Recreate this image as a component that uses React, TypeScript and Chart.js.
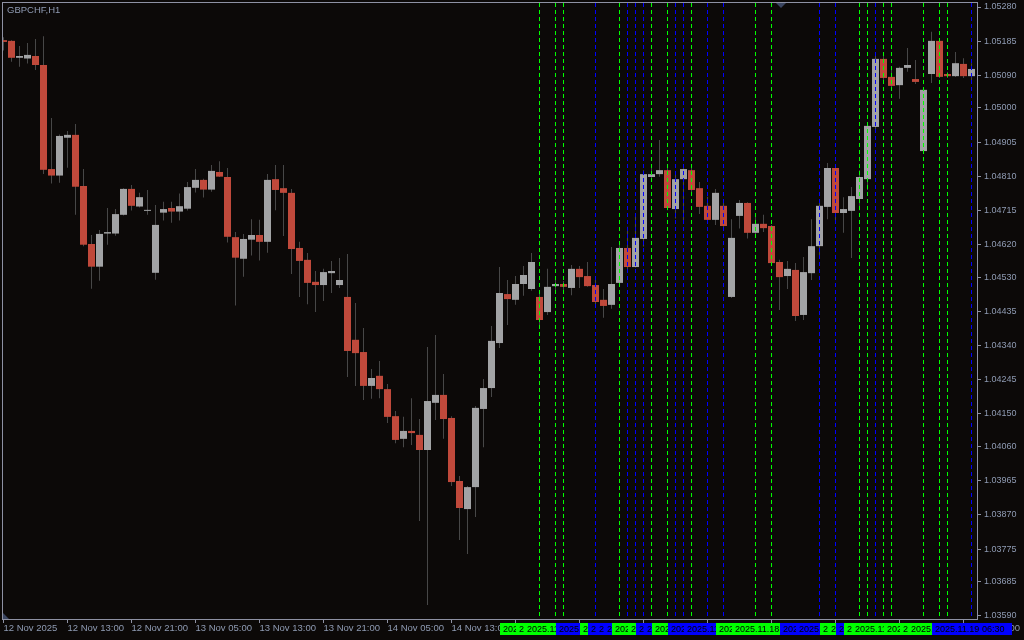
import React, { useEffect, useRef } from 'react';
import { Chart, registerables } from 'chart.js';

Chart.register(...registerables);

// ---- data (H1 candles, GBPCHF) ----
const opens = [
  1.05188, 1.05186, 1.05139, 1.05137, 1.05144, 1.05119, 1.04830, 1.04812, 1.04917, 1.04925,
  1.04783, 1.04622, 1.04559, 1.04651, 1.04651, 1.04703, 1.04775, 1.04726, 1.04714, 1.04542,
  1.04709, 1.04722, 1.04712, 1.04720, 1.04778, 1.04800, 1.04773, 1.04822, 1.04808, 1.04641,
  1.04581, 1.04634, 1.04647, 1.04628, 1.04802, 1.04777, 1.04764, 1.04611, 1.04578, 1.04517,
  1.04508, 1.04541, 1.04508, 1.04475, 1.04356, 1.04322, 1.04228, 1.04256, 1.04219, 1.04144,
  1.04081, 1.04103, 1.04092, 1.04050, 1.04181, 1.04203, 1.04139, 1.03964, 1.03886, 1.03947,
  1.04164, 1.04222, 1.04347, 1.04483, 1.04467, 1.04511, 1.04497, 1.04475, 1.04433, 1.04505,
  1.04511, 1.04500, 1.04553, 1.04533, 1.04508, 1.04467, 1.04453, 1.04514, 1.04611, 1.04558,
  1.04636, 1.04808, 1.04816, 1.04827, 1.04719, 1.04802, 1.04827, 1.04777, 1.04728, 1.04689,
  1.04728, 1.04475, 1.04700, 1.04736, 1.04653, 1.04678, 1.04672, 1.04572, 1.04533, 1.04550,
  1.04425, 1.04541, 1.04616, 1.04725, 1.04833, 1.04708, 1.04714, 1.04747, 1.04802, 1.04947,
  1.05136, 1.05086, 1.05063, 1.05111, 1.05080, 1.04880, 1.05094, 1.05186, 1.05094, 1.05088,
  1.05122, 1.05088,
];
const highs = [
  1.05196, 1.05188, 1.05172, 1.05180, 1.05191, 1.05199, 1.04972, 1.04926, 1.04936, 1.04955,
  1.04830, 1.04647, 1.04661, 1.04722, 1.04719, 1.04777, 1.04786, 1.04764, 1.04772, 1.04730,
  1.04739, 1.04739, 1.04762, 1.04794, 1.04830, 1.04803, 1.04841, 1.04852, 1.04833, 1.04655,
  1.04650, 1.04691, 1.04689, 1.04816, 1.04841, 1.04841, 1.04775, 1.04628, 1.04597, 1.04547,
  1.04553, 1.04575, 1.04583, 1.04594, 1.04458, 1.04389, 1.04275, 1.04297, 1.04233, 1.04158,
  1.04142, 1.04194, 1.04136, 1.04336, 1.04369, 1.04261, 1.04144, 1.03978, 1.03950, 1.04172,
  1.04247, 1.04394, 1.04558, 1.04522, 1.04533, 1.04561, 1.04597, 1.04494, 1.04553, 1.04522,
  1.04519, 1.04564, 1.04561, 1.04572, 1.04522, 1.04497, 1.04614, 1.04622, 1.04670, 1.04703,
  1.04827, 1.04840, 1.04911, 1.04836, 1.04814, 1.04832, 1.04833, 1.04794, 1.04753, 1.04775,
  1.04744, 1.04691, 1.04744, 1.04738, 1.04697, 1.04703, 1.04675, 1.04578, 1.04575, 1.04569,
  1.04586, 1.04691, 1.04736, 1.04847, 1.04839, 1.04752, 1.04780, 1.04827, 1.04958, 1.05147,
  1.05147, 1.05105, 1.05114, 1.05166, 1.05133, 1.05055, 1.05211, 1.05188, 1.05100, 1.05155,
  1.05138, 1.05124,
];
const lows = [
  1.05159, 1.05128, 1.05114, 1.05123, 1.05105, 1.04816, 1.04790, 1.04792, 1.04834, 1.04703,
  1.04616, 1.04498, 1.04520, 1.04620, 1.04645, 1.04701, 1.04715, 1.04723, 1.04703, 1.04523,
  1.04687, 1.04681, 1.04687, 1.04715, 1.04765, 1.04751, 1.04767, 1.04808, 1.04626, 1.04451,
  1.04531, 1.04590, 1.04576, 1.04598, 1.04716, 1.04644, 1.04539, 1.04475, 1.04455, 1.04433,
  1.04464, 1.04486, 1.04500, 1.04253, 1.04228, 1.04189, 1.04192, 1.04194, 1.04125, 1.04069,
  1.04058, 1.04064, 1.03853, 1.03620, 1.04133, 1.04081, 1.03950, 1.03800, 1.03761, 1.03864,
  1.04058, 1.04197, 1.04333, 1.04397, 1.04453, 1.04478, 1.04492, 1.04392, 1.04425, 1.04494,
  1.04489, 1.04480, 1.04500, 1.04503, 1.04455, 1.04417, 1.04442, 1.04511, 1.04550, 1.04557,
  1.04615, 1.04805, 1.04809, 1.04716, 1.04693, 1.04684, 1.04766, 1.04705, 1.04679, 1.04675,
  1.04670, 1.04472, 1.04665, 1.04637, 1.04650, 1.04655, 1.04566, 1.04439, 1.04497, 1.04408,
  1.04411, 1.04522, 1.04591, 1.04691, 1.04680, 1.04653, 1.04583, 1.04716, 1.04772, 1.04934,
  1.05077, 1.05057, 1.05025, 1.05100, 1.05066, 1.04877, 1.05069, 1.05083, 1.05083, 1.05086,
  1.05083, 1.05077,
];
const closes = [
  1.05183, 1.05139, 1.05144, 1.05147, 1.05119, 1.04828, 1.04812, 1.04922, 1.04925, 1.04781,
  1.04620, 1.04559, 1.04650, 1.04655, 1.04705, 1.04775, 1.04728, 1.04752, 1.04716, 1.04675,
  1.04719, 1.04712, 1.04727, 1.04780, 1.04800, 1.04773, 1.04825, 1.04809, 1.04642, 1.04584,
  1.04636, 1.04647, 1.04628, 1.04800, 1.04772, 1.04764, 1.04608, 1.04575, 1.04514, 1.04508,
  1.04544, 1.04547, 1.04522, 1.04325, 1.04319, 1.04228, 1.04250, 1.04219, 1.04142, 1.04078,
  1.04103, 1.04097, 1.04050, 1.04186, 1.04203, 1.04136, 1.03961, 1.03889, 1.03947, 1.04167,
  1.04222, 1.04353, 1.04486, 1.04469, 1.04511, 1.04536, 1.04572, 1.04411, 1.04503, 1.04511,
  1.04503, 1.04553, 1.04530, 1.04505, 1.04461, 1.04450, 1.04511, 1.04611, 1.04558, 1.04639,
  1.04816, 1.04816, 1.04827, 1.04722, 1.04802, 1.04830, 1.04772, 1.04725, 1.04689, 1.04764,
  1.04672, 1.04639, 1.04736, 1.04653, 1.04678, 1.04666, 1.04569, 1.04530, 1.04553, 1.04422,
  1.04544, 1.04616, 1.04728, 1.04833, 1.04708, 1.04719, 1.04755, 1.04808, 1.04950, 1.05136,
  1.05083, 1.05061, 1.05111, 1.05119, 1.05072, 1.05050, 1.05186, 1.05086, 1.05088, 1.05124,
  1.05088, 1.05108,
];

const yTickValues = [
  1.0528, 1.05185, 1.0509, 1.05, 1.04905, 1.0481, 1.04715, 1.0462, 1.0453, 1.04435,
  1.0434, 1.04245, 1.0415, 1.0406, 1.03965, 1.0387, 1.03775, 1.03685, 1.0359,
];
const xTickBars = [0, 8, 16, 24, 32, 40, 48, 56, 64, 72, 80, 88, 96, 104, 112, 120];
const xTickLabels = [
  '12 Nov 2025', '12 Nov 13:00', '12 Nov 21:00', '13 Nov 05:00', '13 Nov 13:00',
  '13 Nov 21:00', '14 Nov 05:00', '14 Nov 13:00', '14 Nov 21:00', '17 Nov 05:00',
  '17 Nov 13:00', '17 Nov 21:00', '18 Nov 05:00', '18 Nov 13:00', '18 Nov 21:00',
  '19 Nov 05:00',
];

// vertical time lines (bar index, colour kind, label)
const vLineBars = [67, 69, 70, 74, 77, 78, 79, 80, 81, 83, 84, 85, 86, 88, 90, 94, 96, 102, 104, 107, 108, 109, 110, 111, 115, 117, 118, 121];
const vLineKinds = ['g', 'g', 'g', 'b', 'g', 'b', 'b', 'b', 'g', 'g', 'b', 'b', 'g', 'b', 'b', 'g', 'g', 'b', 'b', 'g', 'g', 'b', 'g', 'g', 'g', 'g', 'g', 'b'];
const vLineTimes = [
  '2025.11.17 00:30', '2025.11.17 02:30', '2025.11.17 03:30', '2025.11.17 07:30',
  '2025.11.17 10:30', '2025.11.17 11:30', '2025.11.17 12:30', '2025.11.17 13:30',
  '2025.11.17 14:30', '2025.11.17 16:30', '2025.11.17 17:30', '2025.11.17 18:30',
  '2025.11.17 19:30', '2025.11.17 21:30', '2025.11.17 23:30', '2025.11.18 03:30',
  '2025.11.18 05:30', '2025.11.18 11:30', '2025.11.18 13:30', '2025.11.18 16:30',
  '2025.11.18 17:30', '2025.11.18 18:30', '2025.11.18 19:30', '2025.11.18 20:30',
  '2025.11.19 00:30', '2025.11.19 02:30', '2025.11.19 03:30', '2025.11.19 06:30',
];

const SYMBOL_TITLE = 'GBPCHF,H1';

// ---- styling ----
const BG = '#0c0908';
const FRAME = '#8e91a3';
const TEXT = '#8f9bb3';
const BULL = '#a2a3a5';
const BEAR = '#c0493b';
const WICK = '#474747';
const GREEN = '#00ff00';
const BLUE = '#0000ff';
const FONT = '"Liberation Sans", Arial, sans-serif';

const X_MIN = -0.1875;
const X_MAX = 121.6875;
const Y_MIN = 1.035808;
const Y_MAX = 1.052939;

const mtPlugin = {
  id: 'mtDecor',
  beforeDraw(chart: any) {
    const { ctx } = chart;
    ctx.save();
    ctx.fillStyle = BG;
    ctx.fillRect(0, 0, chart.width, chart.height);
    ctx.restore();
  },
  afterDatasetsDraw(chart: any) {
    const { ctx, chartArea } = chart;
    const xs = chart.scales.x;
    ctx.save();
    ctx.lineWidth = 1;
    ctx.setLineDash([4, 3]);
    vLineBars.forEach((b, i) => {
      const px = Math.floor(xs.getPixelForValue(b)) + 0.5;
      ctx.strokeStyle = vLineKinds[i] === 'g' ? GREEN : BLUE;
      ctx.beginPath();
      ctx.moveTo(px, chartArea.top + 1);
      ctx.lineTo(px, chartArea.bottom);
      ctx.stroke();
    });
    ctx.setLineDash([]);
    ctx.strokeStyle = FRAME;
    ctx.strokeRect(
      chartArea.left + 0.5,
      chartArea.top + 0.5,
      chartArea.right - chartArea.left,
      chartArea.bottom - chartArea.top
    );
    // shift marker (top) and corner marker (bottom-left)
    ctx.fillStyle = '#3a4560';
    ctx.beginPath();
    ctx.moveTo(776, chartArea.top + 1);
    ctx.lineTo(786, chartArea.top + 1);
    ctx.lineTo(781, chartArea.top + 6);
    ctx.closePath();
    ctx.fill();
    ctx.beginPath();
    ctx.moveTo(chartArea.left + 1, chartArea.bottom - 6);
    ctx.lineTo(chartArea.left + 1, chartArea.bottom);
    ctx.lineTo(chartArea.left + 7, chartArea.bottom);
    ctx.closePath();
    ctx.fill();
    // title
    ctx.fillStyle = TEXT;
    ctx.font = '9.5px ' + FONT;
    ctx.textBaseline = 'middle';
    ctx.textAlign = 'left';
    ctx.fillText(SYMBOL_TITLE, 7, 10.5);
    ctx.restore();
  },
  afterDraw(chart: any) {
    const { ctx, chartArea } = chart;
    const xs = chart.scales.x;
    ctx.save();
    ctx.font = '9px ' + FONT;
    ctx.textBaseline = 'middle';
    ctx.textAlign = 'left';
    const w = 80;
    const top = chartArea.bottom + 4;
    const h = 12;
    vLineBars.forEach((b, i) => {
      const cx = Math.floor(xs.getPixelForValue(b)) + 0.5;
      const left = Math.round(cx - w / 2);
      ctx.fillStyle = vLineKinds[i] === 'g' ? GREEN : BLUE;
      ctx.fillRect(left, top, w, h);
      ctx.fillStyle = '#000000';
      ctx.fillText(vLineTimes[i], left + 3, top + h / 2 + 0.5);
    });
    ctx.restore();
  },
};

export default function App() {
  const ref = useRef<HTMLCanvasElement>(null);
  useEffect(() => {
    document.body.style.margin = '0';
    document.body.style.background = BG;
    const idx = opens.map((_, i) => i);
    const chart = new Chart(ref.current as HTMLCanvasElement, {
      type: 'bar',
      data: {
        datasets: [
          {
            label: 'body',
            data: idx.map((i) => ({ x: i, y: [opens[i], closes[i]] })) as any,
            backgroundColor: idx.map((i) => (closes[i] >= opens[i] ? BULL : BEAR)),
            barThickness: 7,
            grouped: false,
            order: 0,
            borderWidth: 0,
            inflateAmount: 0,
            minBarLength: 1,
          } as any,
          {
            label: 'wick',
            data: idx.map((i) => ({ x: i, y: [lows[i], highs[i]] })) as any,
            backgroundColor: WICK,
            barThickness: 1,
            grouped: false,
            order: 1,
            borderWidth: 0,
            inflateAmount: 0,
          } as any,
        ],
      },
      options: {
        responsive: false,
        animation: false,
        devicePixelRatio: 1,
        layout: { padding: { left: 2, top: 2, right: 0, bottom: 0 } },
        plugins: {
          legend: { display: false },
          tooltip: { enabled: false },
        },
        scales: {
          x: {
            type: 'linear',
            position: 'bottom',
            offset: false,
            min: X_MIN,
            max: X_MAX,
            afterBuildTicks: (s: any) => {
              s.ticks = xTickBars.map((v) => ({ value: v }));
            },
            afterFit: (s: any) => {
              s.height = 21;
              s.paddingLeft = 0;
              s.paddingRight = 0;
            },
            ticks: {
              autoSkip: false,
              maxRotation: 0,
              minRotation: 0,
              align: 'start',
              padding: 0,
              color: TEXT,
              font: { family: FONT, size: 9.5 },
              callback: (_v: any, i: number) => xTickLabels[i],
            },
            grid: { offset: false, drawOnChartArea: false, drawTicks: true, tickLength: 4, color: FRAME },
            border: { display: false },
          },
          y: {
            type: 'linear',
            position: 'right',
            min: Y_MIN,
            max: Y_MAX,
            afterBuildTicks: (s: any) => {
              s.ticks = yTickValues.map((v) => ({ value: v }));
            },
            afterFit: (s: any) => {
              s.width = 47;
              s.paddingTop = 0;
              s.paddingBottom = 0;
            },
            ticks: {
              autoSkip: false,
              padding: 3,
              color: TEXT,
              font: { family: FONT, size: 9 },
              callback: (v: any) => Number(v).toFixed(5),
            },
            grid: { drawOnChartArea: false, drawTicks: true, tickLength: 4, color: FRAME },
            border: { display: false },
          },
        },
      } as any,
      plugins: [mtPlugin],
    });
    return () => chart.destroy();
  }, []);
  return (
    <div style={{ width: 1024, height: 640, background: BG }}>
      <canvas
        ref={ref}
        width={1024}
        height={640}
        style={{ display: 'block', width: 1024, height: 640 }}
      />
    </div>
  );
}
